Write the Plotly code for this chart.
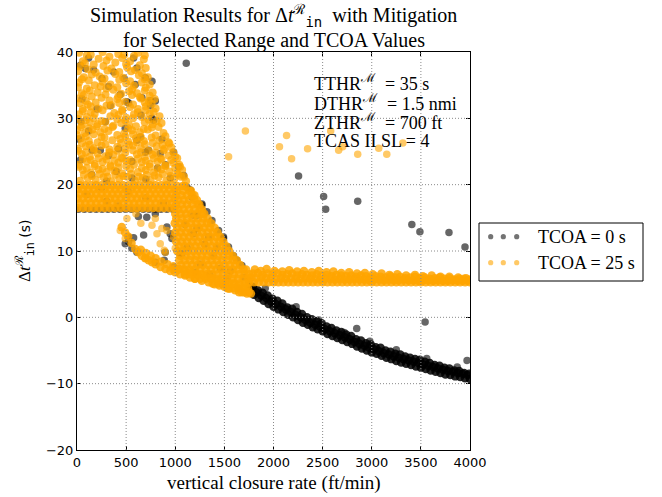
import plotly.graph_objects as go

# ---------------- axis ticks ----------------
x_ticks = [0, 500, 1000, 1500, 2000, 2500, 3000, 3500, 4000]
y_ticks = [-20, -10, 0, 10, 20, 30, 40]

# ================= TCOA = 0 s (black) =================
# descending curve band (x > 1750)
c0_low_x = [1750,1800,1850,1900,1950,2000,2050,2100,2150,2200,2250,2300,2350,2400,2450,2500,2550,2600,2650,2700,2750,2800,2850,2900,2950,3000,3050,3100,3150,3200,3250,3300,3350,3400,3450,3500,3550,3600,3650,3700,3750,3800,3850,3900,3950,4000]
c0_low_y = [3.9,3.4,2.9,2.5,2.0,1.6,1.2,0.8,0.4,0.0,-0.4,-0.8,-1.1,-1.5,-1.8,-2.1,-2.5,-2.8,-3.1,-3.4,-3.7,-4.0,-4.4,-4.7,-5.0,-5.3,-5.5,-5.8,-6.1,-6.3,-6.6,-6.8,-7.0,-7.2,-7.4,-7.6,-7.8,-8.0,-8.2,-8.4,-8.6,-8.7,-8.9,-9.0,-9.2,-9.3]
c0_mid_x = [1775,1825,1875,1925,1975,2025,2075,2125,2175,2225,2275,2325,2375,2425,2475,2525,2575,2625,2675,2725,2775,2825,2875,2925,2975,3025,3075,3125,3175,3225,3275,3325,3375,3425,3475,3525,3575,3625,3675,3725,3775,3825,3875,3925,3975]
c0_mid_y = [4.3,3.8,3.3,2.9,2.4,2.0,1.6,1.2,0.8,0.4,0.0,-0.4,-0.8,-1.1,-1.4,-1.8,-2.1,-2.4,-2.7,-3.0,-3.3,-3.7,-4.0,-4.3,-4.6,-4.8,-5.1,-5.4,-5.6,-5.9,-6.1,-6.3,-6.5,-6.7,-6.9,-7.1,-7.3,-7.5,-7.7,-7.9,-8.1,-8.2,-8.4,-8.5,-8.7]
c0_up_x = [1790,1840,1890,1940,1990,2040,2090,2140,2190,2240,2290,2340,2390,2440,2490,2540,2590,2640,2690,2740,2790,2840,2890,2940,2990,3040,3090,3140,3190,3240,3290,3340,3390,3440,3490,3540,3590,3640,3690,3740,3790,3840,3890,3940,3990]
c0_up_y = [4.6,4.1,3.7,3.3,2.8,2.5,2.1,1.5,1.3,0.8,0.5,0.0,-0.3,-0.6,-0.9,-1.4,-1.6,-2.0,-2.2,-2.6,-2.8,-3.3,-3.5,-3.9,-4.1,-4.5,-4.6,-5.0,-5.2,-5.5,-5.6,-5.9,-6.1,-6.3,-6.4,-6.7,-6.9,-7.2,-7.3,-7.6,-7.7,-8.0,-8.1,-8.4,-8.5]
c0_bumps = [(1916,4.4),(2230,1.6),(2460,-0.4),(2720,-2.3),(2980,-3.6),(3250,-4.9),(3560,-6.2),(3870,-7.5)]
# isolated points
c0_outliers = [(1112,38.3),(2255,21.3),(2510,18.2),(2531,16.3),(2857,17.5),(3408,14.0),(3490,12.9),
               (3786,12.8),(3949,10.6),(2847,-1.7),(3543,-0.7),(3970,-6.5)]
# upper scattered region (x < 1200)
c0_upper = [(118,39.1),(34,38.0),(169,37.3),(254,36.0),(373,37.0),(576,39.1),(610,37.6),(695,36.1),
            (763,35.6),(593,35.1),(322,34.8),(440,33.6),(525,32.3),(661,33.1),(797,32.6),(746,31.9),
            (763,30.0),(339,31.9),(203,31.4),(51,32.9),(288,29.5),(491,28.5),(644,27.2),(865,26.9),
            (17,26.9),(118,28.1),(423,25.4),(729,25.2),(847,24.7),(237,25.2),(85,37.5),(746,32.7),
            (780,29.7),(508,32.5),(153,25.2),(322,24.4),(610,26.7),(695,24.9),(983,24.9),(1034,22.7),
            (1085,21.4),(1119,19.6),(1170,18.1),(34,23.7),(400,22.0),(560,21.0),(820,22.5),(150,21.5),
            (950,21.0),(700,20.8),(300,20.5),(40,29.5),(480,36.0),(650,30.5),(560,23.5),(900,23.0)]
# flat block bottom edge and inside
c0_block = [(15,16.3),(75,16.3),(135,16.3),(195,16.3),(255,16.3),(315,16.3),(375,16.3),(435,16.3),
            (495,16.3),(555,16.3),(615,16.3),(675,16.3),(735,16.3),(795,16.3),(855,16.3),(915,16.3),
            (975,16.3),(100,18.5),(300,17.5),(520,19.0),(700,18.0),(880,17.2),(420,16.8),(250,19.5)]
# gap region under the block
c0_gap = [(710,15.1),(797,15.6),(576,12.0),(678,12.4),(525,11.4),(610,9.8),(797,8.3),(898,9.8),
          (983,7.6),(966,11.9),(1068,9.6),(888,8.6),(522,12.1),(915,13.6),(949,12.6),(491,11.1),
          (559,10.4),(1051,9.6),(625,15.2)]
# dense column between 1000 and 1750
c0_column = [(1186,15.4),(1220,15.4),(1271,16.9),(1339,12.1),(1491,12.1),(1390,9.3),(1220,13.4),
             (1186,12.6),(1203,6.8),(1254,8.0),(1627,8.6),(1678,7.8),(1593,9.3),(1458,7.4),(1525,5.9),
             (1153,19.2),(1271,17.1),(1322,15.9),(1373,14.6),(1441,13.1),(1491,11.9),(1542,10.6),
             (1100,14.0),(1300,11.0),(1420,10.5),(1560,7.0),(1350,6.5),(1120,10.5),(1700,6.0),
             (1750,5.5),(1760,4.6),(1650,4.3),(1480,5.0)]

# ================= TCOA = 25 s (orange) =================
# flat band (x > 1750)
b25_r1_x = c0_low_x
b25_r1_y = [5.3,5.3,5.3,5.3,5.3,5.3,5.3,5.3,5.3,5.3,5.3,5.3,5.3,5.3,5.3,5.3,5.3,5.3,5.3,5.3,5.3,5.3,5.3,5.3,5.3,5.3,5.3,5.3,5.3,5.3,5.3,5.3,5.3,5.3,5.3,5.3,5.3,5.3,5.3,5.3,5.3,5.3,5.3,5.3,5.3,5.3]
b25_r2_x = c0_mid_x
b25_r2_y = [6.0,5.9,6.0,5.9,5.9,5.8,5.9,5.8,5.9,5.8,5.8,5.9,5.8,5.8,5.7,5.8,5.8,5.7,5.8,5.7,5.7,5.8,5.7,5.7,5.6,5.7,5.7,5.6,5.7,5.6,5.6,5.7,5.6,5.6,5.5,5.6,5.6,5.5,5.6,5.5,5.5,5.6,5.5,5.5,5.5]
b25_r3_x = c0_up_x
b25_r3_y = [6.6,6.7,6.4,6.6,6.5,6.6,6.4,6.5,6.6,6.3,6.5,6.4,6.3,6.5,6.3,6.4,6.2,6.4,6.3,6.2,6.3,6.1,6.3,6.2,6.0,6.2,6.1,6.0,6.2,6.0,6.1,5.9,6.0,6.1,5.9,6.0,5.8,5.9,6.0,5.8,5.9,5.7,5.8,5.8,5.7]
b25_top = [(1810,7.2),(1870,7.0),(1930,7.3),(2010,7.0),(2090,6.9),(2160,7.1),(2240,6.9),(2310,7.0),
           (2390,6.8),(2460,7.0),(2540,6.8),(2610,6.9),(2690,6.7),(2770,6.8),(2850,6.6),(2930,6.7),
           (3010,6.5),(3100,6.6),(3180,6.4),(3260,6.5),(3350,6.3),(3440,6.4),(3520,6.2),(3610,6.3),
           (3700,6.1),(3790,6.1),(3880,6.0),(3960,5.9)]
# flat block 16.5 - 20
blk25_y = [16.5, 17.2, 17.9, 18.6, 19.3, 19.9]
blk25_xa = [5,60,115,170,225,280,335,390,445,500,555,610,665,720,775,830,885,940,995]
blk25_xb = [30,85,140,195,250,305,360,415,470,525,580,635,690,745,800,855,910,965]
# upper scattered triangle
tri25 = [(30,20.6),(110,21.0),(190,20.7),(270,21.1),(350,20.5),(430,20.9),(510,21.2),(590,20.6),(670,21.0),(750,20.7),(830,21.1),(910,20.6),(990,20.9),(1060,21.2),(1110,20.5),
         (60,22.2),(140,21.8),(220,22.3),(300,21.9),(380,22.1),(460,21.7),(540,22.4),(620,21.9),(700,22.2),(780,21.8),(860,22.3),(940,22.0),(1020,21.7),(1070,22.2),
         (20,23.0),(100,23.5),(180,23.1),(260,23.4),(340,22.9),(420,23.3),(500,23.6),(580,23.0),(660,23.4),(740,23.1),(820,23.5),(900,22.9),(980,23.3),(1040,23.0),
         (50,24.6),(130,24.2),(210,24.7),(290,24.3),(370,24.5),(450,24.1),(610,24.6),(690,24.2),(770,24.5),(850,24.0),(930,24.4),(1000,24.2),
         (10,25.4),(90,25.8),(170,25.5),(250,25.9),(330,25.3),(410,25.7),(490,25.4),(570,25.9),(650,25.5),(810,25.8),(890,25.4),(960,25.6),
         (40,27.0),(120,26.6),(280,27.1),(360,26.7),(440,26.9),(520,26.5),(600,27.0),(680,26.6),(760,27.1),(840,26.7),(930,26.4),
         (0,28.2),(80,27.8),(160,28.3),(240,27.9),(320,28.1),(480,27.7),(560,28.2),(640,27.9),(720,28.3),(880,27.8),
         (50,29.0),(130,29.4),(210,29.1),(290,29.5),(370,28.9),(450,29.3),(530,29.0),(690,29.4),(770,29.1),(860,29.3),
         (20,30.6),(100,30.2),(180,30.7),(340,30.3),(420,30.5),(500,30.1),(580,30.6),(660,30.2),(740,30.7),(840,30.3),
         (60,31.4),(140,31.8),(220,31.5),(300,31.9),(460,31.3),(540,31.7),(620,31.4),(700,31.8),(800,31.5),
         (10,33.0),(90,32.6),(250,33.1),(330,32.7),(410,32.9),(490,32.5),(650,33.0),(730,32.6),(790,32.9),
         (50,33.8),(130,34.2),(210,33.9),(370,34.3),(450,33.7),(530,34.1),(610,33.8),(690,34.2),(770,33.9),
         (20,35.4),(180,35.0),(260,35.5),(340,35.1),(500,35.3),(580,34.9),(660,35.4),(740,35.1),
         (70,36.2),(150,36.6),(230,36.3),(390,36.7),(470,36.1),(630,36.5),(720,36.2),
         (30,37.8),(110,37.4),(270,37.9),(350,37.5),(510,37.7),(590,37.3),(700,37.6),
         (60,38.6),(220,39.0),(300,38.7),(460,39.1),(540,38.6),(680,38.9),
         (20,39.9),(140,39.6),(260,40.0),(420,39.7),(620,39.9),(690,39.5)]
tri25b = [(70,21.5),(150,21.3),(230,21.6),(310,21.2),(390,21.5),(470,21.3),(550,21.6),(630,21.2),(710,21.5),(790,21.4),(870,21.6),(950,21.3),(1030,21.5),(1090,21.2),
          (20,22.7),(100,22.5),(180,22.8),(260,22.4),(340,22.7),(420,22.6),(500,22.8),(660,22.5),(740,22.7),(820,22.4),(900,22.8),(1000,22.5),(1050,22.7),
          (60,23.9),(140,23.7),(220,24.0),(300,23.8),(380,23.6),(460,24.0),(540,23.7),(620,23.9),(700,23.6),(780,24.0),(860,23.8),(960,23.7),(1020,24.0),
          (10,25.1),(90,24.9),(170,25.2),(330,24.9),(410,25.1),(490,24.8),(570,25.2),(650,24.9),(730,25.1),(800,24.8),(880,25.2),(980,24.9),
          (50,26.3),(130,26.0),(210,26.4),(290,26.1),(450,26.3),(530,26.0),(610,26.4),(690,26.1),(770,26.3),(870,26.0),(940,26.2),
          (0,27.5),(90,27.3),(170,27.6),(250,27.2),(410,27.5),(490,27.3),(570,27.6),(650,27.2),(800,27.4),(900,27.3),
          (40,28.7),(120,28.5),(200,28.8),(280,28.4),(360,28.7),(520,28.5),(600,28.8),(680,28.4),(760,28.6),(830,28.7),
          (10,29.9),(90,29.7),(170,30.0),(250,29.6),(410,29.9),(490,29.7),(570,30.0),(730,29.8),(810,29.6),
          (60,31.1),(140,30.9),(260,31.2),(380,30.8),(460,31.1),(620,30.9),(700,31.2),(780,31.0),
          (30,32.3),(110,32.1),(190,32.4),(350,32.0),(430,32.3),(570,32.1),(690,32.4),(760,32.2),
          (70,33.5),(150,33.3),(290,33.6),(420,33.3),(560,33.5),(640,33.2),(740,33.4),
          (10,34.7),(100,34.5),(240,34.8),(300,34.5),(410,34.7),(560,34.4),(700,34.6),
          (50,35.9),(120,35.7),(280,36.0),(430,35.8),(540,35.6),(690,35.9),
          (10,37.1),(190,36.9),(310,37.2),(430,37.0),(550,37.1),(660,36.8),
          (80,38.3),(170,38.1),(390,38.4),(500,38.2),(640,38.0),
          (100,39.5),(330,39.3),(480,39.6),(580,39.4)]
# dense column between 1000 and 1750 (rows)
col25_y = [19.8,19.1,18.4,17.7,17.0,16.3,15.6,14.9,14.2,13.5,12.8,12.1,11.4,10.7,10.0,9.3,8.6,7.9,7.2,6.5,5.8,5.1,4.4,3.8]
col25_x = [
    [1020,1075,1100],
    [1020,1080,1140,1160],
    [1010,1065,1120,1175,1195],
    [1030,1085,1140,1195,1220],
    [1010,1065,1120,1175,1230,1245],
    [1030,1085,1140,1195,1250,1270],
    [1000,1055,1110,1165,1220,1275,1295],
    [1010,1065,1120,1175,1230,1285,1330],
    [995,1050,1105,1160,1215,1270,1325,1365],
    [1020,1075,1130,1185,1240,1295,1350,1400],
    [1000,1055,1110,1165,1220,1275,1330,1385,1430],
    [1030,1085,1140,1195,1250,1305,1360,1415,1460],
    [1010,1065,1120,1175,1230,1285,1340,1395,1450,1490],
    [1040,1095,1150,1205,1260,1315,1370,1425,1480,1520],
    [1020,1075,1130,1185,1240,1295,1350,1405,1460,1515,1550],
    [1050,1105,1160,1215,1270,1325,1380,1435,1490,1545,1585],
    [1040,1095,1150,1205,1260,1315,1370,1425,1480,1535,1590,1625],
    [1060,1115,1170,1225,1280,1335,1390,1445,1500,1555,1610,1660],
    [980,1035,1090,1145,1200,1255,1310,1365,1420,1475,1530,1585,1640,1695,1720],
    [1100,1155,1210,1265,1320,1375,1430,1485,1540,1595,1650,1705,1750],
    [1200,1255,1310,1365,1420,1475,1530,1585,1640,1695,1745],
    [1380,1435,1490,1545,1600,1655,1710],
    [1530,1585,1640,1695,1740],
    [1650,1700,1750],
]
# lower curved edge
low25 = [(455,13.6),(490,12.8),(520,12.2),(555,11.2),(593,10.3),(625,9.8),(660,9.3),(695,8.9),(729,8.6),
         (765,8.3),(800,8.0),(850,7.6),(900,7.3),(950,7.0),(1000,6.8),(1050,6.5),(1100,6.3),(1150,6.0),
         (1200,5.8),(1270,5.5),(1339,5.3),(1400,5.0),(1450,4.8),(1500,4.6),(1550,4.3),(1610,4.1),
         (1676,3.8),(1730,3.6),(1770,3.6),
         (650,10.2),(700,9.7),(750,9.3),(800,8.9),(860,8.4),(920,8.0),(980,7.7),(1040,7.3),(1100,7.0),
         (1160,6.8),(1230,6.5),(1300,6.2),(1370,5.9),(1440,5.6),(1510,5.3),(1580,5.1),(1650,4.8),(1720,4.6)]
# gap region under the block
gap25 = [(440,13.1),(508,14.9),(491,11.9),(763,13.9),(797,14.9),(864,13.4),(847,11.1),(915,13.1),
         (1000,10.4),(888,10.1),(695,8.9),(814,12.6),(983,12.1),(898,9.8),(600,15.6),(650,14.2)]
# isolated points
out25 = [(1543,24.2),(1714,28.1),(2061,25.7),(2133,27.4),(2184,23.9),(2347,25.4),(2582,28.1),
         (2663,25.2),(2704,25.7),(2857,24.6),(3071,25.5),(3153,24.6),(3316,26.3)]


def unzip(pairs):
    return [p[0] for p in pairs], [p[1] for p in pairs]


# ---- assemble TCOA = 0 : dense curve band and scattered points ----
x0_band = c0_low_x + c0_mid_x + c0_up_x
y0_band = c0_low_y + c0_mid_y + c0_up_y
x0_sc, y0_sc = [], []
for grp in (c0_bumps, c0_outliers, c0_upper, c0_block, c0_gap, c0_column):
    a, b = unzip(grp)
    x0_sc += a; y0_sc += b

# ---- assemble TCOA = 25 ----
x25_dense = b25_r1_x + b25_r2_x + b25_r3_x
y25_dense = b25_r1_y + b25_r2_y + b25_r3_y
for i, yy in enumerate(blk25_y):
    xs = blk25_xa if i % 2 == 0 else blk25_xb
    x25_dense += xs; y25_dense += [yy] * len(xs)
for yy, xs in zip(col25_y, col25_x):
    x25_dense += xs; y25_dense += [yy] * len(xs)
a, b = unzip(low25)
x25_dense += a; y25_dense += b
a, b = unzip(b25_top)
x25_dense += a; y25_dense += b

x25_tri, y25_tri = [], []
for grp in (tri25, tri25b):
    a, b = unzip(grp)
    x25_tri += a; y25_tri += b
x25_sc, y25_sc = [], []
for grp in (gap25, out25):
    a, b = unzip(grp)
    x25_sc += a; y25_sc += b

fig = go.Figure()
# TCOA = 0 s (drawn first, below)
fig.add_trace(go.Scatter(x=x0_band, y=y0_band, mode="markers", name="TCOA = 0 s",
                         marker=dict(color="black", size=8.5, opacity=0.85, line=dict(width=0))))
fig.add_trace(go.Scatter(x=x0_sc, y=y0_sc, mode="markers", name="TCOA = 0 s",
                         marker=dict(color="black", size=7.5, opacity=0.6, line=dict(width=0))))
# TCOA = 25 s
fig.add_trace(go.Scatter(x=x25_dense, y=y25_dense, mode="markers", name="TCOA = 25 s",
                         marker=dict(color="#FFA500", size=8.5, opacity=0.85, line=dict(width=0))))
fig.add_trace(go.Scatter(x=x25_tri, y=y25_tri, mode="markers", name="TCOA = 25 s",
                         marker=dict(color="#FFA500", size=8, opacity=0.75, line=dict(width=0))))
fig.add_trace(go.Scatter(x=x25_sc, y=y25_sc, mode="markers", name="TCOA = 25 s",
                         marker=dict(color="#FFA500", size=7.5, opacity=0.6, line=dict(width=0))))

W, H = 662, 497
L, R, T, B = 77, 192, 52, 47
PW, PH = W - L - R, H - T - B


def px_x(p):
    return (p - L) / PW


def px_y(p):
    return (H - B - p) / PH


shapes = []
# dotted grid drawn above the points
for xv in x_ticks[1:-1]:
    shapes.append(dict(type="line", xref="x", yref="paper", x0=xv, x1=xv, y0=0, y1=1,
                       line=dict(color="#8a8a8a", width=1, dash="1px,2px"), layer="above"))
for yv in y_ticks[1:-1]:
    shapes.append(dict(type="line", xref="paper", yref="y", x0=0, x1=1, y0=yv, y1=yv,
                       line=dict(color="#8a8a8a", width=1, dash="1px,2px"), layer="above"))

# custom legend box
shapes.append(dict(type="rect", xref="paper", yref="paper",
                   x0=px_x(479), x1=px_x(643), y0=px_y(281), y1=px_y(223),
                   line=dict(color="black", width=1), fillcolor="white", layer="above"))
leg_rows = [(236.7, "rgba(0,0,0,0.55)", "TCOA = 0 s"), (262.7, "rgba(255,165,0,0.6)", "TCOA = 25 s")]
annotations = []
for py, col, txt in leg_rows:
    for pxc in (490.7, 503.3, 516.7):
        r = 2.6
        shapes.append(dict(type="circle", xref="paper", yref="paper",
                           x0=px_x(pxc - r), x1=px_x(pxc + r), y0=px_y(py + r), y1=px_y(py - r),
                           fillcolor=col, line=dict(width=0), layer="above"))
    annotations.append(dict(text=txt, xref="paper", yref="paper", x=px_x(536), y=px_y(py),
                            xanchor="left", yanchor="middle", showarrow=False,
                            font=dict(family="Liberation Serif", size=18, color="black")))

SERIF = "Liberation Serif"
MONO = "DejaVu Sans Mono"
# title
annotations.append(dict(
    text="Simulation Results for Δ<i>t</i><sup>ℛ</sup><sub><span style='font-family:" + MONO + "'>in</span></sub>  with Mitigation",
    xref="paper", yref="paper", x=0.5, y=px_y(16), xanchor="center", yanchor="middle", showarrow=False,
    font=dict(family=SERIF, size=20, color="black")))
annotations.append(dict(
    text="for Selected Range and TCOA Values",
    xref="paper", yref="paper", x=0.5, y=px_y(40), xanchor="center", yanchor="middle", showarrow=False,
    font=dict(family=SERIF, size=20, color="black")))
# x-axis title
annotations.append(dict(
    text="vertical closure rate (ft/min)", xref="paper", yref="paper", x=0.5, y=px_y(483),
    xanchor="center", yanchor="middle", showarrow=False, font=dict(family=SERIF, size=19, color="black")))
# y-axis title
annotations.append(dict(
    text="Δ<i>t</i><sup>ℛ</sup><sub><span style='font-family:" + MONO + "'>in</span></sub> <span style='font-family:DejaVu Sans;font-size:14px'>(s)</span>",
    xref="paper", yref="paper", x=px_x(24), y=px_y(251), xanchor="center", yanchor="middle",
    textangle=-90, showarrow=False, font=dict(family=SERIF, size=17, color="black")))
# parameter text
SUP = "<sup><span style='font-family:DejaVu Serif'>ℳ</span></sup>"
param_lines = ["TTHR" + SUP + "  = 35 s", "DTHR" + SUP + "  = 1.5 nmi", "ZTHR" + SUP + "  = 700 ft", "TCAS II SL = 4"]
param_px = [82, 101.5, 121, 141]
for txt, py in zip(param_lines, param_px):
    annotations.append(dict(text=txt, xref="paper", yref="paper", x=px_x(312), y=px_y(py),
                            xanchor="left", yanchor="middle", showarrow=False,
                            font=dict(family=SERIF, size=18, color="black")))

axis_common = dict(showgrid=False, zeroline=False, showline=True, mirror="ticks",
                   linecolor="black", linewidth=1, ticks="inside", ticklen=4, tickcolor="black",
                   tickfont=dict(family="DejaVu Sans", size=13, color="black"))

fig.update_layout(
    width=W, height=H, margin=dict(l=L, r=R, t=T, b=B),
    paper_bgcolor="white", plot_bgcolor="white",
    xaxis=dict(range=[0, 4000], tickvals=x_ticks, **axis_common),
    yaxis=dict(range=[-20, 40], tickvals=y_ticks, **axis_common),
    shapes=shapes, annotations=annotations, showlegend=False, hovermode=False,
)

fig.write_html("out.html", config={"displayModeBar": False},
               post_script="document.body.style.margin='0';")
